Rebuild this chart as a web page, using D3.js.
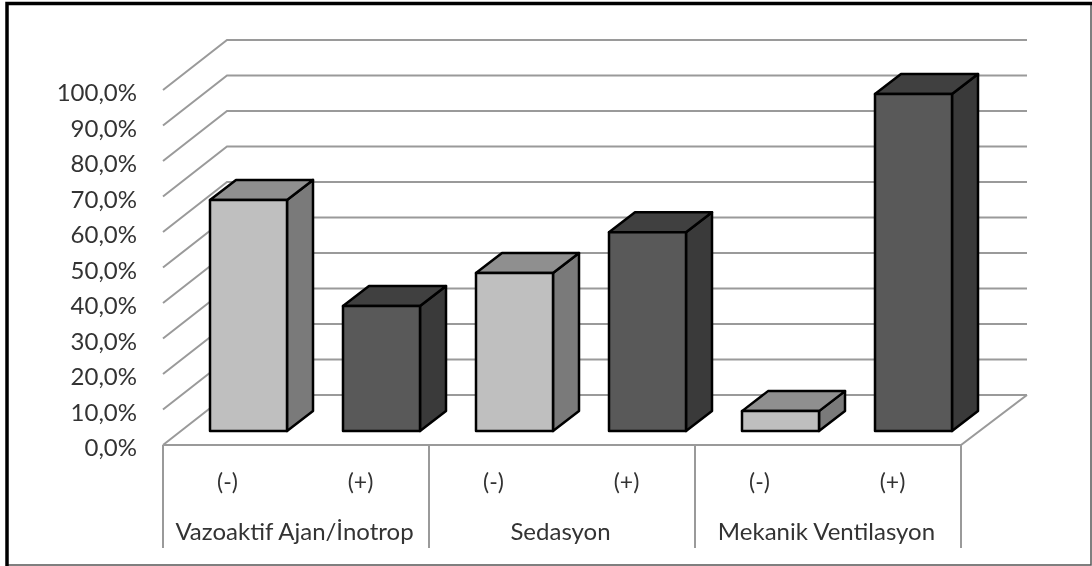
<!DOCTYPE html>
<html><head><meta charset="utf-8">
<script src="https://cdn.jsdelivr.net/npm/d3@7"></script>
<style>html,body{margin:0;padding:0;background:#fff;overflow:hidden}svg{display:block;filter:blur(0.45px)}text{font-family:Lato,"Open Sans",sans-serif;fill:#333}</style>
</head><body><svg id="c" width="1092" height="566"></svg>
<script>
const groups = ["Vazoaktif Ajan/İnotrop","Sedasyon","Mekanik Ventilasyon"];
const signs = ["(-)","(+)","(-)","(+)","(-)","(+)"];
const values = [65.1,35.2,44.5,56.0,5.6,94.9];
const tickValues = [0,10,20,30,40,50,60,70,80,90,100];

const svg = d3.select("#c");
const floorFront = 445, floorDx = 64, floorDy = 50;
const y = d3.scaleLinear().domain([0,100]).range([floorFront,90]);
const x = d3.scaleBand().domain(d3.range(signs.length)).range([163,961]);
const gx = d3.scaleBand().domain(groups).range([163,961]);
const barW = 77, barOffX = 19, barOffY = 14, dx = 26, dy = 20;
const grid = "#9a9a9a";

// frame
svg.append("rect").attr("x",7).attr("y",3.5).attr("width",1084).attr("height",561.5).attr("fill","#fff").attr("stroke","#555").attr("stroke-width",1.5);
svg.append("path").attr("d","M7,566V3.5H1092").attr("fill","none").attr("stroke","#000").attr("stroke-width",3.5);

// gridlines
const gridG = svg.append("g").attr("fill","none").attr("stroke",grid).attr("stroke-width",2);
tickValues.forEach(v=>{
  const yy = y(v);
  gridG.append("path").attr("d",`M${x.range()[0]},${yy}L${x.range()[0]+floorDx},${yy-floorDy}H${x.range()[1]+floorDx+2}`);
});
gridG.append("path").attr("d",`M${x.range()[0]},${floorFront}H${x.range()[1]}L${x.range()[1]+floorDx+2},${floorFront-floorDy}`);
// category separators
[...groups.map(g=>gx(g)),x.range()[1]].forEach(px=>{
  gridG.append("line").attr("x1",px).attr("x2",px).attr("y1",floorFront).attr("y2",548);
});

// bars
const h = y(0)-y(1);
const bars = svg.append("g").selectAll("g").data(values).join("g")
  .attr("stroke","#000").attr("stroke-width",2.5).attr("stroke-linejoin","round");
const colour = i => i%2===0 ? {f:"#bfbfbf",t:"#8f8f8f",s:"#7a7a7a"} : {f:"#595959",t:"#404040",s:"#3a3a3a"};
const L = i => x(i)+(x.bandwidth()-barW)/2+barOffX;
const B = floorFront-barOffY;
bars.append("path").attr("fill",(d,i)=>colour(i).s)
  .attr("d",(d,i)=>{const l=L(i)+barW,t=B-d*h;return `M${l},${B}V${t}l${dx},${-dy}V${B-dy}Z`;});
bars.append("path").attr("fill",(d,i)=>colour(i).t)
  .attr("d",(d,i)=>{const l=L(i),t=B-d*h;return `M${l},${t}l${dx},${-dy}h${barW}l${-dx},${dy}Z`;});
bars.append("rect").attr("fill",(d,i)=>colour(i).f)
  .attr("x",(d,i)=>L(i)).attr("width",barW).attr("y",d=>B-d*h).attr("height",d=>d*h);

// y axis labels
const ax = svg.append("g").attr("transform","translate(137,2)")
  .call(d3.axisLeft(y).tickValues(tickValues).tickSize(0).tickPadding(0).tickFormat(d=>d+",0%"));
ax.select(".domain").remove();
ax.selectAll("text").style("font-family","Lato,sans-serif").style("font-size","24px").attr("fill","#333").attr("dy","0.36em");

// category labels
svg.append("g").selectAll("text").data(signs).join("text")
  .attr("x",(d,i)=>x(i)+x.bandwidth()/2-2).attr("y",482).attr("dy","0.36em")
  .attr("text-anchor","middle").attr("font-size",23).text(d=>d);
svg.append("g").selectAll("text").data(groups).join("text")
  .attr("x",d=>gx(d)+gx.bandwidth()/2-1.5).attr("y",531).attr("dy","0.36em")
  .attr("text-anchor","middle").attr("font-size",24).text(d=>d);
</script></body></html>
